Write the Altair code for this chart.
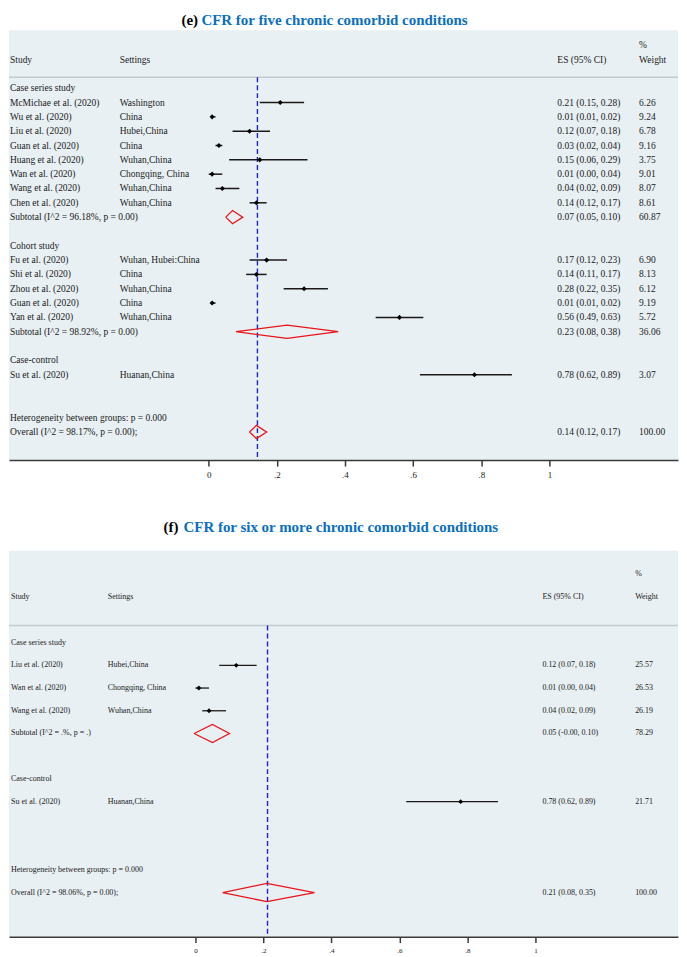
import altair as alt
import pandas as pd

FONT = "Liberation Serif"
BG = "#e8f0f3"
TITLE_BLUE = "#0a6fc2"
DASH_BLUE = "#2020d0"
RED = "#e8141b"
INK = "#1a1a1a"

# ---------------- panel (e) data ----------------
e_tag = "(e)"
e_title = "CFR for five chronic comorbid conditions"
e_study = ["Case series study", "McMichae et al. (2020)", "Wu et al. (2020)", "Liu et al. (2020)",
           "Guan et al. (2020)", "Huang et al. (2020)", "Wan et al. (2020)", "Wang et al. (2020)",
           "Chen et al. (2020)", "Subtotal  (I^2 = 96.18%, p = 0.00)", "",
           "Cohort study", "Fu et al. (2020)", "Shi et al. (2020)", "Zhou et al. (2020)",
           "Guan et al. (2020)", "Yan et al. (2020)", "Subtotal  (I^2 = 98.92%, p = 0.00)", "",
           "Case-control", "Su et al. (2020)", "", "",
           "Heterogeneity between groups: p = 0.000", "Overall  (I^2 = 98.17%, p = 0.00);"]
e_setting = ["", "Washington", "China", "Hubei,China", "China", "Wuhan,China", "Chongqing, China",
             "Wuhan,China", "Wuhan,China", "", "", "", "Wuhan, Hubei:China", "China", "Wuhan,China",
             "China", "Wuhan,China", "", "", "", "Huanan,China", "", "", "", ""]
e_kind = ["group"] + ["study"] * 8 + ["subtotal", "blank", "group"] + ["study"] * 5 + \
         ["subtotal", "blank", "group", "study", "blank", "blank", "note", "overall"]
e_es = [None, 0.21, 0.01, 0.12, 0.03, 0.15, 0.01, 0.04, 0.14, 0.07, None,
        None, 0.17, 0.14, 0.28, 0.01, 0.56, 0.23, None, None, 0.78, None, None, None, 0.14]
e_lo = [None, 0.15, 0.01, 0.07, 0.02, 0.06, 0.00, 0.02, 0.12, 0.05, None,
        None, 0.12, 0.11, 0.22, 0.01, 0.49, 0.08, None, None, 0.62, None, None, None, 0.12]
e_hi = [None, 0.28, 0.02, 0.18, 0.04, 0.29, 0.04, 0.09, 0.17, 0.10, None,
        None, 0.23, 0.17, 0.35, 0.02, 0.63, 0.38, None, None, 0.89, None, None, None, 0.17]
e_weight = [None, 6.26, 9.24, 6.78, 9.16, 3.75, 9.01, 8.07, 8.61, 60.87, None,
            None, 6.90, 8.13, 6.12, 9.19, 5.72, 36.06, None, None, 3.07, None, None, None, 100.00]
e_overall_line = 0.143

# ---------------- panel (f) data ----------------
f_tag = "(f)"
f_title = "CFR for six or more chronic comorbid conditions"
f_study = ["Case series study", "Liu et al. (2020)", "Wan et al. (2020)", "Wang et al. (2020)",
           "Subtotal  (I^2 = .%, p = .)", "", "Case-control", "Su et al. (2020)", "", "",
           "Heterogeneity between groups: p = 0.000", "Overall  (I^2 = 98.06%, p = 0.00);"]
f_setting = ["", "Hubei,China", "Chongqing, China", "Wuhan,China", "", "", "", "Huanan,China",
             "", "", "", ""]
f_kind = ["group", "study", "study", "study", "subtotal", "blank", "group", "study", "blank",
          "blank", "note", "overall"]
f_es = [None, 0.12, 0.01, 0.04, 0.05, None, None, 0.78, None, None, None, 0.21]
f_lo = [None, 0.07, 0.00, 0.02, -0.004, None, None, 0.62, None, None, None, 0.08]
f_hi = [None, 0.18, 0.04, 0.09, 0.10, None, None, 0.89, None, None, None, 0.35]
f_weight = [None, 25.57, 26.53, 26.19, 78.29, None, None, 21.71, None, None, None, 100.00]
f_overall_line = 0.212

header_cols = ["Study", "Settings", "ES (95% CI)", "Weight"]
tick_values = [0, 0.2, 0.4, 0.6, 0.8, 1]

W = 671


def panel(tag, title, study, setting, kind, es, lo, hi, weight, line_at, cfg):
    rows = pd.DataFrame({"r": list(range(len(study))), "study": study, "setting": setting,
                         "kind": kind, "es": es, "lo": lo, "hi": hi, "w": weight})
    rows["es_txt"] = [f"{a:.2f} ({b:.2f}, {c:.2f})" if not pd.isna(a) else ""
                      for a, b, c in zip(rows["es"], rows["lo"], rows["hi"])]
    rows["w_txt"] = [f"{v:.2f}" if not pd.isna(v) else "" for v in rows["w"]]

    ys = alt.Scale(domain=cfg["ydom"], reverse=True, nice=False, zero=False)
    xs = alt.Scale(domain=cfg["xdom"], nice=False, zero=False)
    ax = alt.Axis(values=tick_values, title=None, grid=False,
                  labelExpr="datum.value == 0 ? '0' : datum.value == 1 ? '1' : '.' + round(datum.value * 10)",
                  labelFont=FONT, labelFontSize=cfg["lab"], labelColor=INK,
                  domainColor="#3a3a3a", domainWidth=1.5, tickColor="#3a3a3a", tickWidth=1.5,
                  tickSize=6, labelPadding=cfg["labpad"])

    def X(field):
        return alt.X(f"{field}:Q", scale=xs, axis=ax)

    def Y(field="r"):
        return alt.Y(f"{field}:Q", scale=ys, axis=None)

    fs = cfg["fs"]
    cx = cfg["cols"]

    def txt(df, field, x, size=fs, color=INK):
        return alt.Chart(df).mark_text(align="left", baseline="middle", font=FONT, fontSize=size,
                                       color=color).encode(
            x=alt.value(x), y=Y(), text=f"{field}:N")

    layers = []
    # header separator
    sep = pd.DataFrame({"r": [cfg["sep"]]})
    layers.append(alt.Chart(sep).mark_rule(color="#c3cacd", strokeWidth=1.5).encode(
        y=Y(), x=alt.value(0), x2=alt.value(W)))
    # dashed overall line
    ov = pd.DataFrame({"es": [line_at], "r0": [cfg["sep"]], "r1": [cfg["ydom"][1]]})
    layers.append(alt.Chart(ov).mark_rule(color=DASH_BLUE, strokeWidth=1.4, strokeDash=[5, 3]).encode(
        x=X("es"), y=Y("r0"), y2=alt.Y2("r1")))
    # confidence intervals
    st = rows[rows.kind == "study"]
    layers.append(alt.Chart(st).mark_rule(color=INK, strokeWidth=cfg["ciw"]).encode(
        x=X("lo"), x2=alt.X2("hi"), y=Y()))
    layers.append(alt.Chart(st).mark_point(shape="diamond", filled=True, color="#000000",
                                           size=cfg["pt"], opacity=1).encode(x=X("es"), y=Y()))
    # pooled diamonds
    dm = rows[rows.kind.isin(["subtotal", "overall"])]
    h = cfg["dh"]
    poly = []
    for _, rr in dm.iterrows():
        pts = [(rr.lo, rr.r), (rr.es, rr.r - h), (rr.hi, rr.r), (rr.es, rr.r + h), (rr.lo, rr.r)]
        for o, (px, py) in enumerate(pts):
            poly.append({"id": int(rr.r), "o": o, "x": px, "y": py})
    poly = pd.DataFrame(poly)
    layers.append(alt.Chart(poly).mark_line(color=RED, strokeWidth=1.3).encode(
        x=X("x"), y=Y("y"), detail="id:N", order="o:Q"))
    # text columns
    layers.append(txt(rows, "study", cx[0]))
    layers.append(txt(rows, "setting", cx[1]))
    layers.append(txt(rows, "es_txt", cx[2]))
    layers.append(txt(rows, "w_txt", cx[3]))
    hdr = pd.DataFrame({"r": [-2] * 4 + [-3], "t": header_cols + ["%"],
                        "c": [0, 1, 2, 3, 3]})
    for i in range(4):
        layers.append(txt(hdr[hdr.c == i], "t", cx[i]))
    # panel title (two colours)
    tt = pd.DataFrame({"a": [tag], "b": [title]})
    layers.append(alt.Chart(tt).mark_text(align="left", baseline="middle", font=FONT,
                                          fontSize=cfg["tfs"], fontWeight="bold", color="#000000").encode(
        x=alt.value(cfg["tx"][0]), y=alt.value(cfg["ty"]), text="a:N"))
    layers.append(alt.Chart(tt).mark_text(align="left", baseline="middle", font=FONT,
                                          fontSize=cfg["tfs"], fontWeight="bold", color=TITLE_BLUE).encode(
        x=alt.value(cfg["tx"][1]), y=alt.value(cfg["ty"]), text="b:N"))
    return alt.layer(*layers).properties(width=W, height=cfg["h"])


# x domains so that 0 and 1 land where the reference draws them (page x 208 / 550 and 195 / 536)
e_cfg = dict(ydom=[-4.04, 25.96], xdom=[-200.3 / 341.7, (W - 200.3) / 341.7], h=431, fs=9.5, lab=9,
             labpad=4.5, cols=[1, 111, 550, 632], sep=-0.77, ciw=1.5, pt=26, dh=0.46, tfs=15,
             tx=[173, 193], ty=-10)
f_cfg = dict(ydom=[-4.04, 12.94], xdom=[-187.0 / 341.0, (W - 187.0) / 341.0], h=387, fs=8, lab=7,
             labpad=3.5, cols=[2, 99, 535, 628], sep=-0.75, ciw=1.3, pt=24, dh=0.4, tfs=15,
             tx=[155, 175], ty=-24)

ce = panel(e_tag, e_title, e_study, e_setting, e_kind, e_es, e_lo, e_hi, e_weight, e_overall_line, e_cfg)
cf = panel(f_tag, f_title, f_study, f_setting, f_kind, f_es, f_lo, f_hi, f_weight, f_overall_line, f_cfg)

chart = alt.vconcat(ce, cf, spacing=40).properties(
    padding={"top": 4, "left": 0, "right": 0, "bottom": 0}
).configure_view(fill=BG, strokeWidth=0)

chart.save("out.html", embed_options={"renderer": "svg", "actions": False})
